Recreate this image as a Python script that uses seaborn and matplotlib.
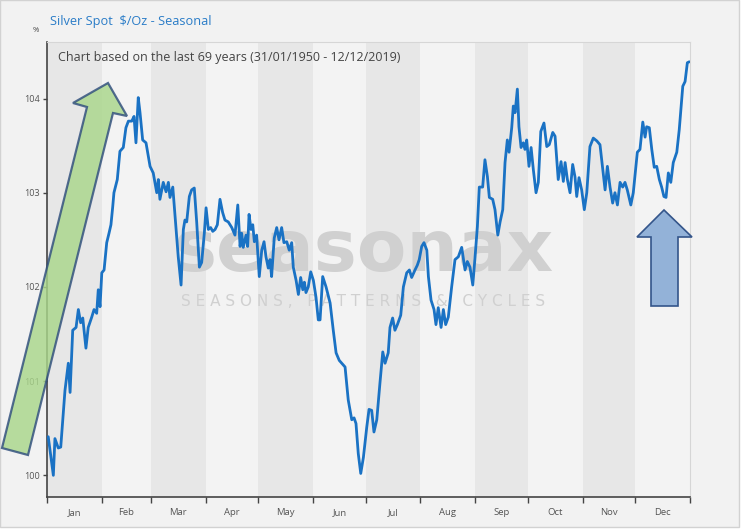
import numpy as np
import pandas as pd
import matplotlib
matplotlib.use('Agg')
import matplotlib.pyplot as plt
from matplotlib.patches import Polygon, Rectangle
import seaborn as sns


# Seasonal pattern (day of year, index value in %)
day = [0.7, 3.6, 4.5, 6.4, 7.8, 10.2, 12.1, 13.1, 14.6, 16.5, 17.8, 19.1,
       20.3, 22.1, 23.4, 25.4, 26.7, 28.2, 29.1, 30.1, 31.1, 32.4, 33.9,
       35.2, 36.3, 37.3, 38.0, 39.9, 41.4, 43.3, 44.8, 46.2, 48.1, 49.4,
       50.5, 51.8, 52.8, 54.3, 56.2, 58.5, 60.3, 62.3, 63.2, 64.1, 66.0,
       67.6, 68.9, 69.8, 71.4, 72.7, 74.5, 76.1, 77.4, 78.3, 79.3, 80.8,
       82.1, 83.6, 85.0, 86.5, 87.8, 89.3, 90.3, 91.6, 92.9, 94.1, 95.4,
       96.7, 98.2, 99.7, 101.0, 102.9, 104.9, 106.7, 108.3, 109.6, 110.5,
       111.4, 113.0, 113.9, 114.7, 115.8, 116.8, 117.7, 119.0, 120.5, 121.9,
       123.2, 124.3, 125.6, 126.6, 127.5, 129.0, 130.4, 131.7, 133.2, 134.5,
       136.1, 137.5, 138.9, 139.8, 141.4, 142.7, 144.0, 145.2, 146.1, 147.0,
       148.3, 149.7, 151.2, 152.7, 154.0, 155.0, 156.5, 158.4, 160.7, 162.5,
       164.1, 165.9, 167.3, 169.2, 171.0, 173.0, 174.3, 175.4, 176.7, 178.1,
       179.6, 181.5, 182.8, 184.3, 185.6, 187.2, 189.0, 190.6, 191.9, 193.7,
       194.7, 196.2, 197.5, 198.9, 200.8, 202.3, 204.2, 205.7, 207.0, 208.9,
       210.2, 211.3, 212.7, 214.0, 215.6, 216.5, 218.0, 219.7, 220.8, 222.1,
       223.7, 225.0, 226.3, 227.8, 229.7, 231.6, 233.5, 235.4, 237.3, 238.6,
       240.1, 241.7, 243.0, 244.3, 245.4, 247.3, 248.6, 250.0, 251.1, 253.0,
       254.3, 255.9, 257.2, 258.7, 260.0, 261.3, 262.3, 263.8, 264.7, 265.7,
       267.0, 267.9, 269.1, 270.4, 271.3, 272.3, 273.6, 274.8, 276.1, 277.6,
       278.9, 280.3, 282.1, 283.7, 285.1, 287.1, 288.4, 290.2, 291.8, 293.1,
       294.1, 295.4, 296.9, 298.4, 299.7, 300.7, 302.0, 303.5, 305.0, 306.4,
       308.2, 310.1, 312.1, 313.9, 315.5, 316.8, 318.1, 319.6, 321.1, 322.4,
       323.8, 325.3, 326.8, 328.1, 329.4, 331.4, 332.8, 335.1, 336.6, 338.2,
       339.5, 340.4, 341.9, 343.3, 344.7, 346.1, 347.6, 348.9, 350.2, 351.4,
       352.7, 354.1, 355.5, 357.5, 358.9, 360.9, 362.2, 363.5, 364.6]
value = [100.41, 100.00, 100.39, 100.29, 100.30, 100.90, 101.19, 100.88,
         101.54, 101.57, 101.76, 101.62, 101.67, 101.35, 101.57, 101.68,
         101.76, 101.72, 101.97, 101.79, 102.15, 102.18, 102.47, 102.57,
         102.66, 102.85, 103.00, 103.14, 103.44, 103.48, 103.69, 103.76,
         103.76, 103.81, 103.53, 104.01, 103.85, 103.56, 103.53, 103.28,
         103.21, 103.00, 103.14, 102.93, 103.11, 103.01, 103.11, 102.95,
         103.06, 102.75, 102.32, 102.02, 102.61, 102.71, 102.69, 102.96,
         103.03, 103.05, 102.68, 102.21, 102.26, 102.57, 102.84, 102.61,
         102.63, 102.59, 102.61, 102.66, 102.93, 102.79, 102.71, 102.69,
         102.63, 102.55, 102.87, 102.43, 102.57, 102.42, 102.55, 102.43,
         102.77, 102.61, 102.66, 102.48, 102.55, 102.11, 102.39, 102.48,
         102.32, 102.20, 102.29, 102.11, 102.52, 102.63, 102.50, 102.63,
         102.47, 102.48, 102.39, 102.47, 102.21, 102.07, 101.92, 102.10,
         101.97, 102.05, 101.94, 102.00, 102.16, 102.07, 101.89, 101.65,
         101.65, 102.11, 102.00, 101.83, 101.54, 101.30, 101.22, 101.19,
         101.15, 100.80, 100.59, 100.61, 100.55, 100.23, 100.02, 100.19,
         100.51, 100.70, 100.69, 100.46, 100.59, 100.98, 101.31, 101.19,
         101.30, 101.57, 101.67, 101.54, 101.60, 101.70, 102.00, 102.15,
         102.18, 102.10, 102.18, 102.23, 102.29, 102.43, 102.47, 102.39,
         102.11, 101.86, 101.76, 101.60, 101.78, 101.57, 101.76, 101.60,
         101.68, 102.00, 102.29, 102.32, 102.42, 102.18, 102.27, 102.21,
         102.02, 102.32, 102.64, 103.06, 103.06, 103.35, 103.17, 102.95,
         102.93, 102.82, 102.55, 102.69, 102.82, 103.32, 103.56, 103.43,
         103.69, 103.92, 103.85, 104.10, 103.70, 103.48, 103.53, 103.46,
         103.56, 103.28, 103.48, 103.24, 103.00, 103.11, 103.65, 103.74,
         103.49, 103.51, 103.64, 103.60, 103.14, 103.33, 103.12, 103.32,
         103.14, 103.00, 103.30, 103.17, 102.96, 103.16, 103.03, 102.82,
         103.00, 103.49, 103.58, 103.55, 103.51, 103.25, 103.03, 103.28,
         103.06, 102.89, 103.00, 102.87, 103.11, 103.06, 103.11, 103.03,
         102.87, 103.00, 103.43, 103.46, 103.75, 103.59, 103.70, 103.69,
         103.46, 103.27, 103.28, 103.14, 103.06, 102.96, 102.95, 103.21,
         103.11, 103.32, 103.43, 103.67, 104.13, 104.18, 104.38, 104.39]

months = ['Jan', 'Feb', 'Mar', 'Apr', 'May', 'Jun',
          'Jul', 'Aug', 'Sep', 'Oct', 'Nov', 'Dec']
month_start = [0, 31, 59, 90, 120, 151, 181, 212, 243, 273, 304, 334, 365]
y_ticks = [100, 101, 102, 103, 104]

seasonal_df = pd.DataFrame({'day': day, 'value': value})


# Style
sns.set_theme(style='white')
plt.rcParams['font.family'] = ['Open Sans', 'DejaVu Sans']

W, H = 743, 530
fig = plt.figure(figsize=(W / 100, H / 100), dpi=100)
fig.patch.set_facecolor('white')

# outer panel of the screenshot
fig.add_artist(Rectangle((0, 3 / H), 739 / W, 1 - 3 / H,
                         transform=fig.transFigure, facecolor='#f2f2f2',
                         edgecolor='#d2d2d2', linewidth=1, zorder=0))

ax = fig.add_axes([47 / W, 1 - 497 / H, 643 / W, 455 / H])
ax.set_facecolor('#f3f3f3')

# alternating month bands
for i in range(0, 12, 2):
    ax.axvspan(month_start[i], month_start[i + 1], color='#e7e7e7',
               lw=0, zorder=0)

# watermark
ax.text(0.492, 0.54, 'seasonax', transform=ax.transAxes, ha='center',
        va='center', fontsize=52, color='#d0d0d0', family='DejaVu Sans',
        fontweight='bold', zorder=1)
ax.text(0.492, 0.43, 'S E A S O N S ,   P A T T E R N S   &   C Y C L E S',
        transform=ax.transAxes, ha='center', va='center', fontsize=11,
        color='#d0d0d0', family='DejaVu Sans', zorder=1)

sns.lineplot(data=seasonal_df, x='day', y='value', color='#1a72c4',
             linewidth=2.0, ax=ax, zorder=3)

ax.set_xlim(0, 365)
ax.set_ylim(99.77, 104.6)
ax.set_xticks(month_start)
ax.set_xticklabels([])
ax.set_xticks([(a + b) / 2 for a, b in zip(month_start[:-1],
                                            month_start[1:])], minor=True)
ax.set_xticklabels(months, minor=True)
ax.tick_params(axis='x', which='major', length=4, width=1, color='#444444',
               direction='out', bottom=True)
ax.tick_params(axis='x', which='minor', length=0, pad=8, labelsize=6.8,
               labelcolor='#555555')
ax.set_yticks(y_ticks)
ax.set_yticklabels([str(t) for t in y_ticks])
ax.tick_params(axis='y', length=3, width=1, color='#444444', direction='out',
               left=True, labelsize=6.5, labelcolor='#555555', pad=2)
ax.set_xlabel('')
ax.set_ylabel('')

for side in ['left', 'bottom']:
    ax.spines[side].set_color('#444444')
    ax.spines[side].set_linewidth(1.2)
for side in ['top', 'right']:
    ax.spines[side].set_color('#d6d6d6')
    ax.spines[side].set_linewidth(0.8)

ax.text(0.017, 0.965, 'Chart based on the last 69 years '
        '(31/01/1950 - 12/12/2019)', transform=ax.transAxes, ha='left',
        va='center', fontsize=9, color='#444444')

fig.text(50 / W, 1 - 22 / H, r'Silver Spot  \$/Oz - Seasonal', ha='left',
         va='center', fontsize=9.2, color='#2a7cc7')
fig.text(33 / W, 1 - 30 / H, '%', ha='left', va='center', fontsize=5.5,
         color='#444444')


# highlight arrows (pixel coordinates, origin top-left)
def px(points):
    return [(x / W, 1 - y / H) for x, y in points]


green_arrow = [(2, 448), (87, 107), (73, 103), (108, 83), (127, 116),
               (113, 113), (28, 455)]
fig.add_artist(Polygon(px(green_arrow), closed=True,
                       transform=fig.transFigure, facecolor='#a9d68a',
                       alpha=0.82, edgecolor='#2e4d7c', linewidth=1.6,
                       zorder=10))
blue_arrow = [(651, 306), (651, 237), (637, 237), (664, 210), (692, 237),
              (678, 237), (678, 306)]
fig.add_artist(Polygon(px(blue_arrow), closed=True,
                       transform=fig.transFigure, facecolor='#93b2d8',
                       edgecolor='#34558a', linewidth=1.2, zorder=10))

plt.savefig('out.png', dpi=100)
